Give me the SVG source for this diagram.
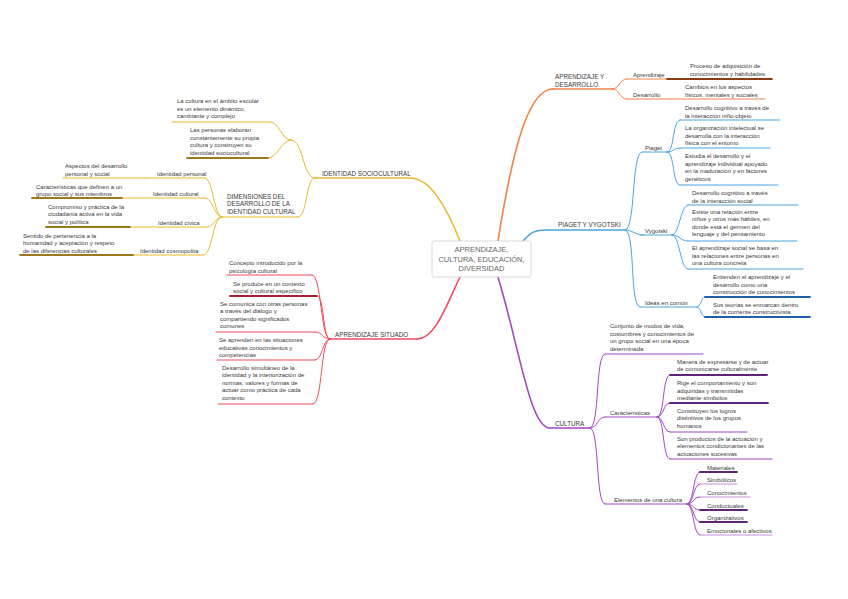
<svg xmlns="http://www.w3.org/2000/svg" width="848" height="599" viewBox="0 0 848 599">
<style>
text{font-family:"Liberation Sans",Arial,sans-serif;font-size:6px;fill:#3a3a3a}
.cap{font-size:6.3px}
.ctr{font-size:7.5px;fill:#666;text-anchor:middle}
path,line{fill:none;stroke-linecap:round}
.y{stroke:#e9b931;stroke-width:1}
.yd{stroke:#9a7a1a;stroke-width:1.8}
.o{stroke:#f0834a;stroke-width:1}
.od{stroke:#8b3c12;stroke-width:1.8}
.b{stroke:#4da3e3;stroke-width:1}
.bd{stroke:#2060a8;stroke-width:1.8}
.r{stroke:#ef4b5c;stroke-width:1}
.rd{stroke:#a82030;stroke-width:1.8}
.p{stroke:#a247c4;stroke-width:1}
.pd{stroke:#5e2479;stroke-width:1.8}
.pl{stroke:#c98be0;stroke-width:1}
.main{stroke-width:1.6}
</style>
<rect width="848" height="599" fill="#fff"/>

<g id="connectors">
  <!-- main branches -->
  <path class="y main" d="M460,241 C446,206 430,178 410,178"/>
  <path class="o main" d="M498,241 C514,140 530,89 553,89"/>
  <path class="b main" d="M523,241 C531,232 535,230 547,230"/>
  <path class="r main" d="M460,277 C446,306 435,339 417,339"/>
  <path class="p main" d="M498,277 C520,350 530,428 550,428"/>
  <!-- orange -->
  <path class="o" d="M612,89 C620,89 619,79 627,79"/>
  <path class="o" d="M612,89 C620,89 619,99 627,99"/>
  <!-- blue -->
  <path class="b" d="M625,230 C636,230 631,152 642,152"/>
  <path class="b" d="M625,230 C633,230 635,235 643,235"/>
  <path class="b" d="M625,230 C636,230 629,307 640,307"/>
  <path class="b" d="M667,152 C675,152 672,120 680,120"/>
  <path class="b" d="M667,152 C674,152 673,148 680,148"/>
  <path class="b" d="M667,152 C675,152 672,185 680,185"/>
  <path class="b" d="M672,235 C680,235 680,205 688,205"/>
  <path class="b" d="M672,235 C680,235 680,241 688,241"/>
  <path class="b" d="M672,235 C680,235 680,269 688,269"/>
  <path class="b" d="M697,307 C701,307 701,297 705,297"/>
  <path class="b" d="M697,307 C701,307 701,317 705,317"/>
  <!-- purple -->
  <path class="p" d="M590,428 C600,428 595,354 605,354"/>
  <path class="p" d="M590,428 C598,428 597,417 605,417"/>
  <path class="p" d="M590,428 C600,428 595,504 605,504"/>
  <path class="p" d="M657,417 C665,417 662,375 670,375"/>
  <path class="p" d="M657,417 C664,417 663,403 670,403"/>
  <path class="p" d="M657,417 C664,417 663,432 670,432"/>
  <path class="p" d="M657,417 C665,417 662,459 670,459"/>
  <path class="p" d="M687,504 C694,504 693,472 700,472"/>
  <path class="p" d="M687,504 C694,504 693,484 700,484"/>
  <path class="p" d="M687,504 C694,504 693,497 700,497"/>
  <path class="p" d="M687,504 C694,504 693,510 700,510"/>
  <path class="p" d="M687,504 C694,504 693,522 700,522"/>
  <path class="p" d="M687,504 C694,504 693,535 700,535"/>
  <!-- yellow -->
  <path class="y" d="M315,178 C302,178 304,140 291,140"/>
  <path class="y" d="M291,140 C281,140 280,122 270,122"/>
  <path class="y" d="M291,140 C281,140 278,158 268,158"/>
  <path class="y" d="M315,178 C305,178 308,217 298,217"/>
  <path class="y" d="M222,217 C214,217 213,178 205,178"/>
  <path class="y" d="M222,217 C214,217 213,198 205,198"/>
  <path class="y" d="M222,217 C215,217 214,227 207,227"/>
  <path class="y" d="M222,217 C212,217 213,255 203,255"/>
  <!-- red -->
  <path class="r" d="M330,339 C320,339 322,275 312,275"/>
  <path class="r" d="M330,339 C322,339 325,296 317,296"/>
  <path class="r" d="M330,339 C322,339 323,332 315,332"/>
  <path class="r" d="M330,339 C322,339 323,360 315,360"/>
  <path class="r" d="M330,339 C320,339 323,404 313,404"/>
</g>

<g id="center">
  <rect x="432" y="241" width="99" height="36" rx="2" fill="#fff" stroke="#cfcfcf" stroke-width="0.8"/>
  <text class="ctr" x="481.5" y="252">APRENDIZAJE,</text>
  <text class="ctr" x="481.5" y="261.5">CULTURA, EDUCACIÓN,</text>
  <text class="ctr" x="481.5" y="271">DIVERSIDAD</text>
</g>

<!-- ORANGE -->
<g id="aprendizaje-desarrollo">
  <line class="o main" x1="552" y1="89" x2="612" y2="89"/>
  <text class="cap" x="555" y="79">APRENDIZAJE Y</text>
  <text class="cap" x="555" y="86.5">DESARROLLO</text>
</g>
<g id="aprendizaje">
  <line class="o" x1="627" y1="79" x2="667" y2="79"/>
  <text x="633" y="77">Aprendizaje</text>
</g>
<g id="aprendizaje-def">
  <line class="od" x1="667" y1="79" x2="772" y2="79"/>
  <text x="690" y="68">Proceso de adquisición de</text>
  <text x="690" y="75.5">conocimientos y habilidades</text>
</g>
<g id="desarrollo">
  <line class="o" x1="627" y1="99" x2="670" y2="99"/>
  <text x="633" y="97">Desarrollo</text>
</g>
<g id="desarrollo-def">
  <line class="o" x1="670" y1="99" x2="765" y2="99"/>
  <text x="685" y="89">Cambios en los aspectos</text>
  <text x="685" y="96.5">físicos, mentales y sociales</text>
</g>

<!-- BLUE -->
<g id="piaget-vygotski">
  <line class="b main" x1="547" y1="230" x2="625" y2="230"/>
  <text class="cap" x="558" y="227">PIAGET Y VYGOTSKI</text>
</g>
<g id="piaget">
  <line class="b" x1="642" y1="152" x2="667" y2="152"/>
  <text x="645" y="150">Piaget</text>
</g>
<g id="piaget-1">
  <line class="b" x1="680" y1="120" x2="780" y2="120"/>
  <text x="685" y="110">Desarrollo cognitivo a través de</text>
  <text x="685" y="117.5">la interacción niño-objeto</text>
</g>
<g id="piaget-2">
  <line class="b" x1="680" y1="148" x2="770" y2="148"/>
  <text x="685" y="130">La organización intelectual se</text>
  <text x="685" y="137.5">desarrolla con la interacción</text>
  <text x="685" y="145">física con el entorno</text>
</g>
<g id="piaget-3">
  <line class="b" x1="680" y1="185" x2="778" y2="185"/>
  <text x="685" y="158">Estudia el desarrollo y el</text>
  <text x="685" y="165.5">aprendizaje individual apoyado</text>
  <text x="685" y="173">en la maduración y en factores</text>
  <text x="685" y="180.5">genéticos</text>
</g>
<g id="vygotski">
  <line class="b" x1="640" y1="235" x2="672" y2="235"/>
  <text x="645" y="233">Vygotski</text>
</g>
<g id="vygotski-1">
  <line class="b" x1="688" y1="205" x2="798" y2="205"/>
  <text x="692" y="195">Desarrollo cognitivo a través</text>
  <text x="692" y="202.5">de la interacción social</text>
</g>
<g id="vygotski-2">
  <line class="b" x1="688" y1="241" x2="797" y2="241"/>
  <text x="692" y="213.5">Existe una relación entre</text>
  <text x="692" y="221">niños y otros más hábiles, en</text>
  <text x="692" y="228.5">donde está el germen del</text>
  <text x="692" y="236">lenguaje y del pensamiento</text>
</g>
<g id="vygotski-3">
  <line class="b" x1="688" y1="269" x2="803" y2="269"/>
  <text x="692" y="250">El aprendizaje social se basa en</text>
  <text x="692" y="257.5">las relaciones entre personas en</text>
  <text x="692" y="265">una cultura concreta</text>
</g>
<g id="ideas-comun">
  <line class="b" x1="640" y1="307" x2="697" y2="307"/>
  <text x="645" y="304.5">Ideas en común</text>
</g>
<g id="ideas-1">
  <line class="bd" x1="705" y1="297" x2="810" y2="297"/>
  <text x="713" y="279">Entienden el aprendizaje y el</text>
  <text x="713" y="286.5">desarrollo como una</text>
  <text x="713" y="294">construcción de conocimientos</text>
</g>
<g id="ideas-2">
  <line class="bd" x1="705" y1="317" x2="810" y2="317"/>
  <text x="713" y="306.5">Sus teorías se enmarcan dentro</text>
  <text x="713" y="314">de la corriente constructivista</text>
</g>

<!-- PURPLE -->
<g id="cultura">
  <line class="p main" x1="550" y1="428" x2="590" y2="428"/>
  <text class="cap" x="555" y="425.5">CULTURA</text>
</g>
<g id="cultura-def">
  <line class="p" x1="605" y1="354" x2="703" y2="354"/>
  <text x="610" y="328">Conjunto de modos de vida,</text>
  <text x="610" y="335.5">costumbres y conocimientos de</text>
  <text x="610" y="343">un grupo social en una época</text>
  <text x="610" y="350.5">determinada</text>
</g>
<g id="caracteristicas">
  <line class="p" x1="605" y1="417" x2="657" y2="417"/>
  <text x="610" y="414.5">Características</text>
</g>
<g id="car-1">
  <line class="pd" x1="670" y1="375" x2="767" y2="375"/>
  <text x="677" y="363.5">Manera de expresarse y de actuar</text>
  <text x="677" y="371">de comunicarse culturalmente</text>
</g>
<g id="car-2">
  <line class="pd" x1="670" y1="403" x2="768" y2="403"/>
  <text x="677" y="385">Rige el comportamiento y son</text>
  <text x="677" y="392.5">adquiridas y transmitidas</text>
  <text x="677" y="400">mediante símbolos</text>
</g>
<g id="car-3">
  <line class="p" x1="670" y1="432" x2="747" y2="432"/>
  <text x="677" y="412.5">Constituyen los logros</text>
  <text x="677" y="420">distintivos de los grupos</text>
  <text x="677" y="427.5">humanos</text>
</g>
<g id="car-4">
  <line class="p" x1="670" y1="459" x2="772" y2="459"/>
  <text x="677" y="440.5">Son productos de la actuación y</text>
  <text x="677" y="448">elementos condicionantes de las</text>
  <text x="677" y="455.5">actuaciones sucesivas</text>
</g>
<g id="elementos">
  <line class="p" x1="605" y1="504" x2="687" y2="504"/>
  <text x="614" y="501.5">Elementos de una cultura</text>
</g>
<g id="el-materiales"><line class="pd" x1="700" y1="472" x2="737" y2="472"/><text x="707" y="470">Materiales</text></g>
<g id="el-simbolicos"><line class="pl" x1="700" y1="484" x2="737" y2="484"/><text x="707" y="482">Simbólicos</text></g>
<g id="el-conocimientos"><line class="pl" x1="700" y1="497" x2="750" y2="497"/><text x="707" y="494.5">Conocimientos</text></g>
<g id="el-conductuales"><line class="pd" x1="700" y1="510" x2="747" y2="510"/><text x="707" y="507.5">Conductuales</text></g>
<g id="el-organizativos"><line class="pd" x1="700" y1="522" x2="747" y2="522"/><text x="707" y="520">Organizativos</text></g>
<g id="el-emocionales"><line class="pl" x1="700" y1="535" x2="772" y2="535"/><text x="707" y="532.5">Emocionales o afectivos</text></g>

<!-- YELLOW -->
<g id="identidad-sociocultural">
  <line class="y main" x1="315" y1="178" x2="410" y2="178"/>
  <text class="cap" x="322" y="175.5">IDENTIDAD SOCIOCULTURAL</text>
</g>
<g id="cultura-escolar">
  <line class="y" x1="172" y1="122" x2="270" y2="122"/>
  <text x="177" y="103">La cultura en el ámbito escolar</text>
  <text x="177" y="110.5">es un elemento dinámico,</text>
  <text x="177" y="118">cambiante y complejo</text>
</g>
<g id="personas-elaboran">
  <line class="yd" x1="187" y1="158" x2="268" y2="158"/>
  <text x="190" y="132">Las personas elaboran</text>
  <text x="190" y="139.5">constantemente su propia</text>
  <text x="190" y="147">cultura y construyen su</text>
  <text x="190" y="154.5">identidad sociocultural</text>
</g>
<g id="dimensiones">
  <line class="y" x1="222" y1="217" x2="298" y2="217"/>
  <text class="cap" x="227" y="198.5">DIMENSIONES DEL</text>
  <text class="cap" x="227" y="206">DESARROLLO DE LA</text>
  <text class="cap" x="227" y="213.5">IDENTIDAD CULTURAL</text>
</g>
<g id="id-personal">
  <line class="y" x1="145" y1="178" x2="205" y2="178"/>
  <text x="157" y="176">Identidad personal</text>
</g>
<g id="id-personal-def">
  <line class="y" x1="63" y1="178" x2="145" y2="178"/>
  <text x="65" y="168">Aspectos del desarrollo</text>
  <text x="65" y="175.5">personal y social</text>
</g>
<g id="id-cultural">
  <line class="y" x1="122" y1="198" x2="205" y2="198"/>
  <text x="153" y="196">Identidad cultural</text>
</g>
<g id="id-cultural-def">
  <line class="yd" x1="32" y1="198" x2="122" y2="198"/>
  <text x="36" y="188.5">Características que definen a un</text>
  <text x="36" y="196">grupo social y sus miembros</text>
</g>
<g id="id-civica">
  <line class="y" x1="130" y1="227" x2="207" y2="227"/>
  <text x="158" y="224.5">Identidad cívica</text>
</g>
<g id="id-civica-def">
  <line class="yd" x1="46" y1="227" x2="130" y2="227"/>
  <text x="48" y="208.5">Compromiso y práctica de la</text>
  <text x="48" y="216">ciudadanía activa en la vida</text>
  <text x="48" y="223.5">social y política</text>
</g>
<g id="id-cosmopolita">
  <line class="y" x1="133" y1="255" x2="203" y2="255"/>
  <text x="140" y="252.5">Identidad cosmopolita</text>
</g>
<g id="id-cosmopolita-def">
  <line class="yd" x1="20" y1="255" x2="133" y2="255"/>
  <text x="23" y="237.5">Sentido de pertenencia a la</text>
  <text x="23" y="245">humanidad y aceptación y respeto</text>
  <text x="23" y="252.5">de las diferencias culturales</text>
</g>

<!-- RED -->
<g id="aprendizaje-situado">
  <line class="r main" x1="330" y1="339" x2="417" y2="339"/>
  <text class="cap" x="335" y="337">APRENDIZAJE SITUADO</text>
</g>
<g id="situado-1">
  <line class="r" x1="227" y1="275" x2="312" y2="275"/>
  <text x="229" y="265">Concepto introducido por la</text>
  <text x="229" y="272.5">psicología cultural</text>
</g>
<g id="situado-2">
  <line class="rd" x1="230" y1="296" x2="317" y2="296"/>
  <text x="233" y="285.5">Se produce en un contexto</text>
  <text x="233" y="293">social y cultural específico</text>
</g>
<g id="situado-3">
  <line class="r" x1="216" y1="332" x2="315" y2="332"/>
  <text x="220" y="305.5">Se comunica con otras personas</text>
  <text x="220" y="313">a través del diálogo y</text>
  <text x="220" y="320.5">compartiendo significados</text>
  <text x="220" y="328">comunes</text>
</g>
<g id="situado-4">
  <line class="r" x1="217" y1="360" x2="315" y2="360"/>
  <text x="219" y="342">Se aprenden en las situaciones</text>
  <text x="219" y="349.5">educativas conocimientos y</text>
  <text x="219" y="357">competencias</text>
</g>
<g id="situado-5">
  <line class="r" x1="218" y1="404" x2="313" y2="404"/>
  <text x="222" y="369.5">Desarrollo simultáneo de la</text>
  <text x="222" y="377">identidad y la interiorización de</text>
  <text x="222" y="384.5">normas, valores y formas de</text>
  <text x="222" y="392">actuar como práctica de cada</text>
  <text x="222" y="399.5">contexto</text>
</g>
</svg>
